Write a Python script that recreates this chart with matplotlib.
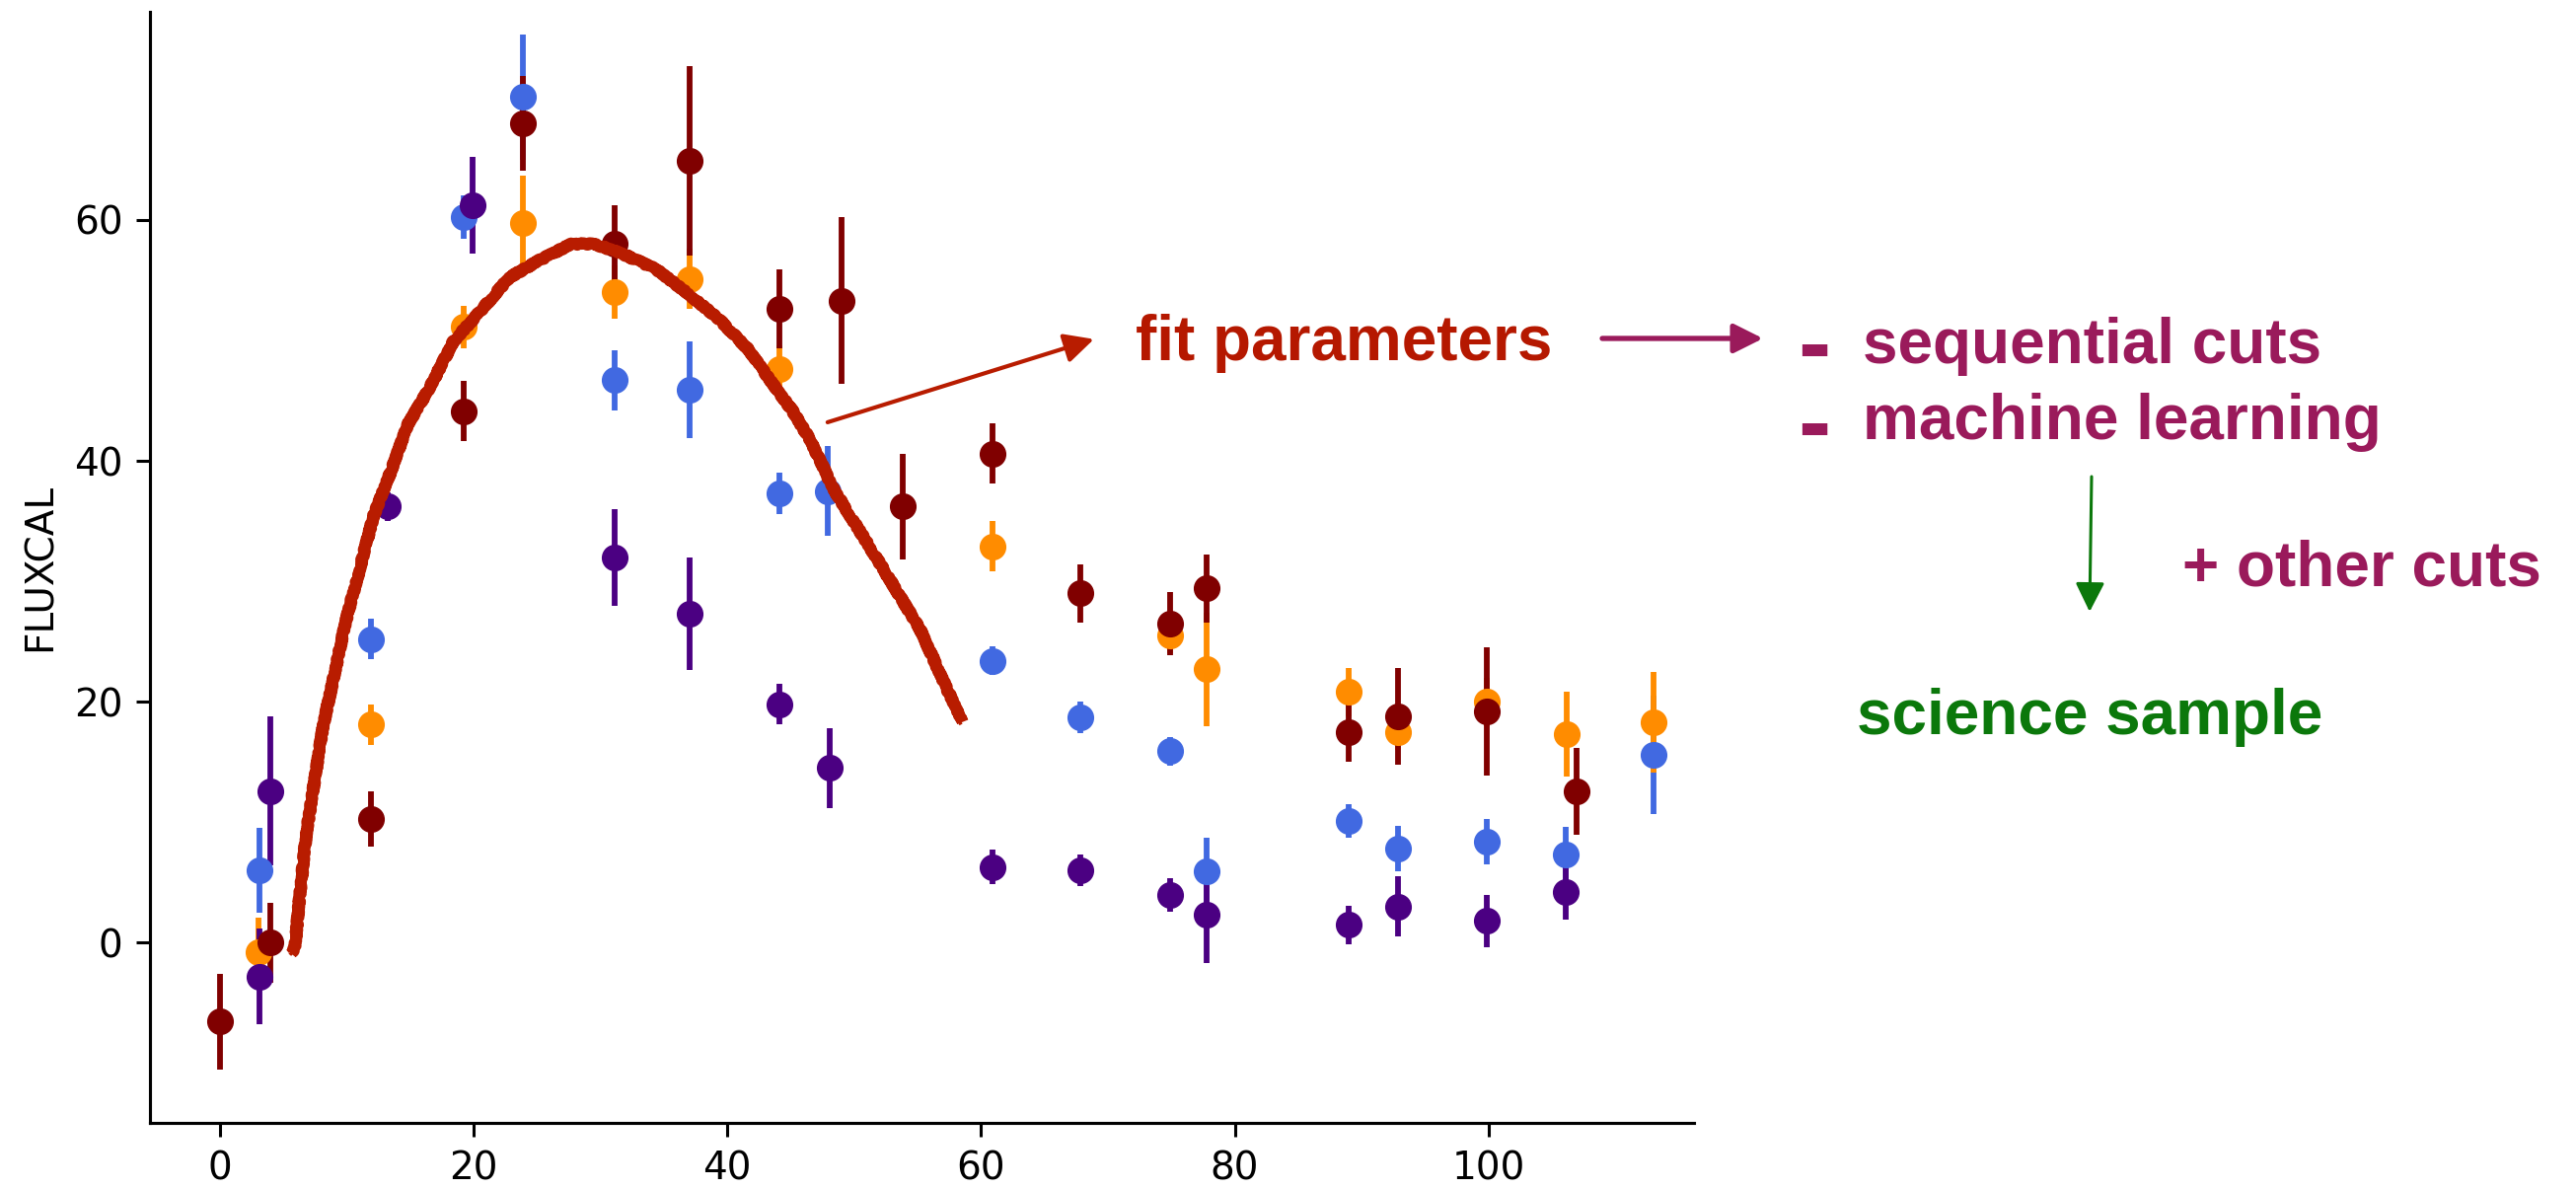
import matplotlib.pyplot as plt
from matplotlib.patches import FancyArrowPatch

plt.rcParams['font.family'] = ['DejaVu Sans']

# light curve points per filter (phase, FLUXCAL, error)
blue_x = [3.1, 11.9, 19.2, 23.9, 31.1, 37.0, 44.1, 47.9, 60.9, 67.85, 74.9, 77.8, 89.0, 92.9, 99.9, 106.1, 113.0]
blue_y = [6.0, 25.2, 60.2, 70.2, 46.7, 45.9, 37.3, 37.5, 23.4, 18.7, 15.9, 5.9, 10.1, 7.8, 8.4, 7.3, 15.6]
blue_err = [3.5, 1.7, 1.8, 5.2, 2.5, 4.0, 1.7, 3.7, 1.2, 1.3, 1.2, 2.8, 1.4, 1.9, 1.9, 2.3, 4.9]

orange_x = [3.0, 11.9, 19.2, 23.9, 31.1, 37.0, 44.1, 60.9, 74.9, 77.8, 89.0, 92.9, 99.9, 106.2, 113.0]
orange_y = [-0.75, 18.1, 51.1, 59.7, 54.0, 55.1, 47.6, 32.9, 25.5, 22.7, 20.8, 17.5, 20.0, 17.3, 18.3]
orange_err = [2.8, 1.7, 1.8, 4.0, 2.2, 2.5, 2.0, 2.1, 1.5, 4.7, 2.0, 1.5, 2.0, 3.5, 4.2]

indigo_x = [3.1, 4.0, 13.2, 19.9, 31.1, 37.0, 44.1, 48.1, 60.9, 67.85, 74.9, 77.8, 89.0, 92.9, 99.9, 106.1]
indigo_y = [-2.8, 12.6, 36.2, 61.2, 32.0, 27.3, 19.8, 14.5, 6.3, 6.0, 4.0, 2.3, 1.5, 3.0, 1.8, 4.2]
indigo_err = [4.0, 6.2, 1.2, 4.0, 4.0, 4.7, 1.7, 3.3, 1.4, 1.3, 1.4, 4.0, 1.6, 2.5, 2.2, 2.3]

maroon_x = [0.0, 4.0, 11.9, 19.2, 23.9, 31.1, 37.0, 44.1, 49.0, 53.85, 60.9, 67.85, 74.9, 77.8, 89.0, 92.9, 99.9, 106.95]
maroon_y = [-6.55, 0.0, 10.3, 44.1, 68.0, 58.0, 64.9, 52.6, 53.3, 36.2, 40.6, 29.0, 26.5, 29.4, 17.5, 18.8, 19.2, 12.6]
maroon_err = [4.0, 3.3, 2.3, 2.5, 3.9, 3.2, 7.9, 3.3, 6.9, 4.4, 2.5, 2.4, 2.6, 2.8, 2.5, 4.0, 5.3, 3.6]

# hand drawn fit curve
fit_x = [5.6, 5.9, 6.3, 6.8, 7.45, 8.1, 9.0, 9.9, 11.0, 12.1, 13.5, 14.8, 16.6, 18.4, 20.6, 22.8, 25.1,
         27.7, 29.5, 31.7, 34.4, 37.1, 39.3, 41.6, 43.3, 45.1, 46.5, 48.4, 51.9, 55.2, 58.5]
fit_y = [-0.9, -0.4, 4.0, 9.0, 13.4, 17.8, 22.2, 26.6, 31.0, 35.4, 39.2, 43.0, 46.2, 49.9, 52.5, 55.2, 56.6,
         58.0, 58.0, 57.2, 55.9, 53.7, 51.8, 49.3, 46.8, 44.2, 41.8, 37.6, 31.7, 26.0, 18.3]

series = [
    (blue_x, blue_y, blue_err, 'royalblue'),
    (orange_x, orange_y, orange_err, 'darkorange'),
    (indigo_x, indigo_y, indigo_err, 'indigo'),
    (maroon_x, maroon_y, maroon_err, '#800000'),
]

fig = plt.figure(figsize=(26.11, 12.05), dpi=100)
ax = fig.add_axes([0.0582, 0.0556, 0.5994, 0.9344])

for x, y, err, c in series:
    ax.errorbar(x, y, yerr=err, fmt='o', color=c, ms=18.5, elinewidth=4.2, capsize=0)

line, = ax.plot(fit_x, fit_y, color='#B81C00', lw=8.5, solid_capstyle='butt',
                solid_joinstyle='round', zorder=5)
line.set_sketch_params(scale=1.0, length=5, randomness=15)
thin, = ax.plot(fit_x, fit_y, color='#B81C00', lw=2.5, zorder=5)
thin.set_sketch_params(scale=2.5, length=4, randomness=30)

ax.set_xlim(-5.52, 116.2)
ax.set_ylim(-14.95, 77.26)
ax.set_xticks([0, 20, 40, 60, 80, 100])
ax.set_yticks([0, 20, 40, 60])
ax.set_ylabel('FLUXCAL', fontsize=28, labelpad=11)
ax.tick_params(labelsize=28, length=9.8, width=2.2, pad=9.8)
for s in ['top', 'right']:
    ax.spines[s].set_visible(False)
for s in ['left', 'bottom']:
    ax.spines[s].set_linewidth(2.24)

# annotations
ax.annotate('', xy=(68.9, 50.1), xytext=(47.9, 43.2),
            arrowprops=dict(arrowstyle='-|>', color='#B81C00', lw=3, mutation_scale=45,
                            shrinkA=0, shrinkB=0))

red = '#B51800'
purple = '#9A1A5B'
green = '#0B780B'
tf = dict(family=['Liberation Sans', 'DejaVu Sans'], fontweight='bold', fontsize=46)

fig.text(1151 / 2611, 1 - 365 / 1205, 'fit parameters', color=red, va='baseline', **tf)
fig.text(1888 / 2611, 1 - 368 / 1205, 'sequential cuts', color=purple, va='baseline', **tf)
fig.text(1888 / 2611, 1 - 445 / 1205, 'machine learning', color=purple, va='baseline', **tf)
fig.text(2212 / 2611, 1 - 594 / 1205, '+ other cuts', color=purple, va='baseline', **tf)
fig.text(1882 / 2611, 1 - 744 / 1205, 'science sample', color=green, va='baseline', **tf)

# the two list dashes, as one text so they stay in step
fig.text(1822 / 2611, 1 - 395 / 1205, '-\n-', family=['Liberation Sans', 'DejaVu Sans'],
         fontweight='bold', fontsize=72, color=purple, va='center', linespacing=0.82)

fig.patches.append(FancyArrowPatch(
    (1624 / 2611, 1 - 343 / 1205), (1787 / 2611, 1 - 343 / 1205), transform=fig.transFigure,
    arrowstyle='-|>', color=purple, lw=3.8, mutation_scale=45, shrinkA=0, shrinkB=0))
fig.patches.append(FancyArrowPatch(
    (2120 / 2611, 1 - 483 / 1205), (2118 / 2611, 1 - 620 / 1205), transform=fig.transFigure,
    arrowstyle='-|>', color=green, lw=2.2, mutation_scale=45, shrinkA=0, shrinkB=0))

fig.savefig('out.png', dpi=100)
